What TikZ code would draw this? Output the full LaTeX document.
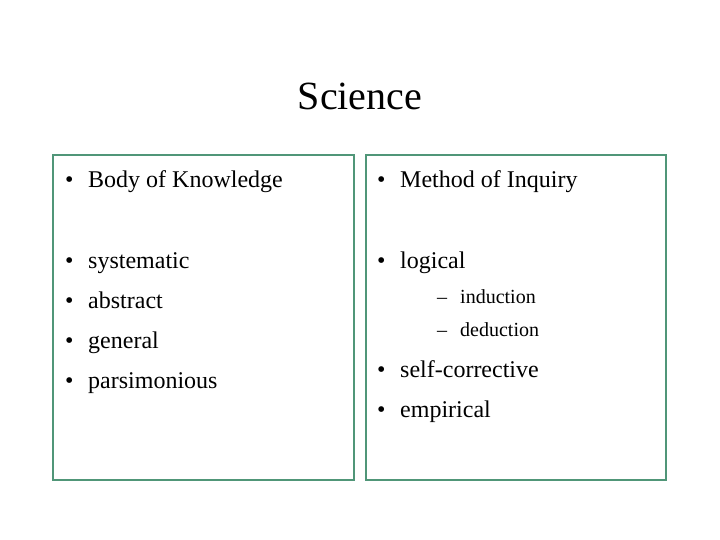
\documentclass[tikz,border=0pt]{standalone}
\usepackage{fontspec}
\setmainfont{Liberation Serif}
\begin{document}
\begin{tikzpicture}[x=1pt,y=-1pt,
  box/.style={draw={rgb,255:red,80;green,150;blue,120},line width=1.2pt},
  txt/.style={anchor=base west,inner sep=0pt,font=\fontsize{24}{28}\selectfont},
  sub/.style={anchor=base west,inner sep=0pt,font=\fontsize{20}{24}\selectfont}]
\useasboundingbox (0,0) rectangle (720,540);
\node[anchor=base,inner sep=0pt,font=\fontsize{40}{48}\selectfont] (title) at (360,110) {Science};
\draw[box] (53,155) rectangle (354,480);
\draw[box] (366,155) rectangle (666,480);
\foreach \y/\t [count=\i] in {188/Body of Knowledge,268/systematic,308/abstract,348/general,388/parsimonious}{
  \node[txt] (lb\i) at (65,\y) {•};
  \node[txt] (l\i) at (88,\y) {\t};
}
\foreach \y/\t [count=\i] in {188/Method of Inquiry,268/logical,377/self-corrective,417/empirical}{
  \node[txt] (rb\i) at (377,\y) {•};
  \node[txt] (r\i) at (400,\y) {\t};
}
\foreach \y/\t [count=\i] in {303/induction,336/deduction}{
  \node[sub] (sd\i) at (437,\y) {–};
  \node[sub] (s\i) at (460,\y) {\t};
}
\end{tikzpicture}
\end{document}
